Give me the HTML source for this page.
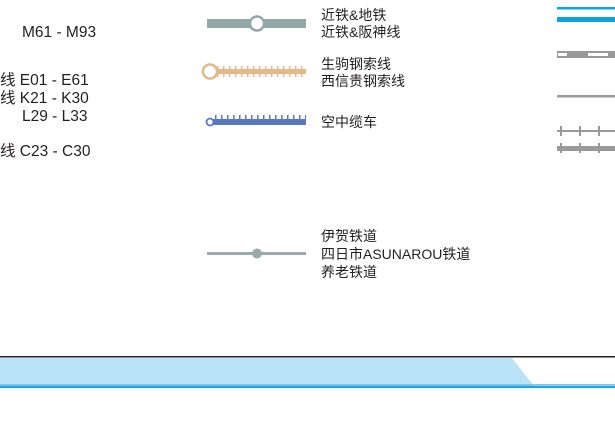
<!DOCTYPE html>
<html><head><meta charset="utf-8"><style>
body{margin:0;width:615px;height:433px;background:#fff;position:relative;overflow:hidden;font-family:"Liberation Sans","Noto Sans CJK SC",sans-serif;color:#231f20}
.t{position:absolute;font-size:14px;line-height:17px;white-space:nowrap}
</style></head><body>
<svg width="615" height="433" style="position:absolute;left:0;top:0">
<defs>
<pattern id="ot" x="217" y="0" width="6" height="433" patternUnits="userSpaceOnUse"><rect x="0" y="66" width="1.5" height="11" fill="#e2b98a"/></pattern>
<pattern id="bt" x="215" y="0" width="6" height="433" patternUnits="userSpaceOnUse"><rect x="0" y="115" width="1.5" height="4" fill="#5a78bf"/></pattern>
<pattern id="gt" x="560" y="0" width="19" height="433" patternUnits="userSpaceOnUse"><rect x="0" y="126" width="2" height="10" fill="#999"/><rect x="0" y="143" width="2" height="10" fill="#999"/></pattern>
</defs>
<rect x="207" y="19" width="99" height="9" fill="#94a7a7"/>
<circle cx="257" cy="23.5" r="7" fill="#fff" stroke="#94a7a7" stroke-width="2.5"/>
<rect x="217" y="69" width="89" height="5" fill="#e2b98a"/>
<rect x="217" y="66" width="89" height="11" fill="url(#ot)"/>
<circle cx="210" cy="71.5" r="7" fill="#fff" stroke="#e2b98a" stroke-width="2.5"/>
<rect x="210" y="119" width="96" height="6" fill="#5a78bf"/>
<rect x="215" y="115" width="91" height="4" fill="url(#bt)"/>
<circle cx="210" cy="122" r="3.5" fill="#fff" stroke="#5a78bf" stroke-width="1.8"/>
<rect x="207" y="252" width="99" height="3" fill="#9aabab"/>
<circle cx="257" cy="253.5" r="5" fill="#9aabab"/>
<rect x="557" y="7" width="58" height="2.5" fill="#0aa4e4"/>
<rect x="557" y="17" width="58" height="5" fill="#0aa4e4"/>
<rect x="557" y="51" width="58" height="7" fill="#999"/>
<rect x="558" y="53" width="9" height="3" fill="#fff"/><rect x="588" y="53" width="20" height="3" fill="#fff"/>
<rect x="557" y="95" width="58" height="2.5" fill="#999"/>
<rect x="557" y="130" width="58" height="2" fill="#999"/>
<rect x="557" y="146" width="58" height="5" fill="#999"/>
<rect x="557" y="126" width="58" height="27" fill="url(#gt)"/>
<rect x="0" y="356" width="615" height="1.5" fill="#222"/>
<polygon points="0,358 512,358 534,386 0,386" fill="#bbe3f7"/>
<rect x="0" y="384" width="615" height="1" fill="#7cc9ef"/>
<rect x="0" y="385.5" width="615" height="2.5" fill="#1ea6e8"/>
</svg>
<div class="t" style="left:22px;top:24px;font-size:15.5px">M61 - M93</div>
<div class="t" style="left:0;top:72px;font-size:15.5px;line-height:18px">线&nbsp;E01 - E61<br>线&nbsp;K21 - K30<br><span style="padding-left:22px">L29 - L33</span></div>
<div class="t" style="left:0;top:143px;font-size:15.5px">线&nbsp;C23 - C30</div>
<div class="t" style="left:321px;top:7px">近铁&amp;地铁<br>近铁&amp;阪神线</div>
<div class="t" style="left:321px;top:56px">生驹钢索线<br>西信贵钢索线</div>
<div class="t" style="left:321px;top:114px">空中缆车</div>
<div class="t" style="left:321px;top:227px;line-height:18px">伊贺铁道<br>四日市ASUNAROU铁道<br>养老铁道</div>
</body></html>
